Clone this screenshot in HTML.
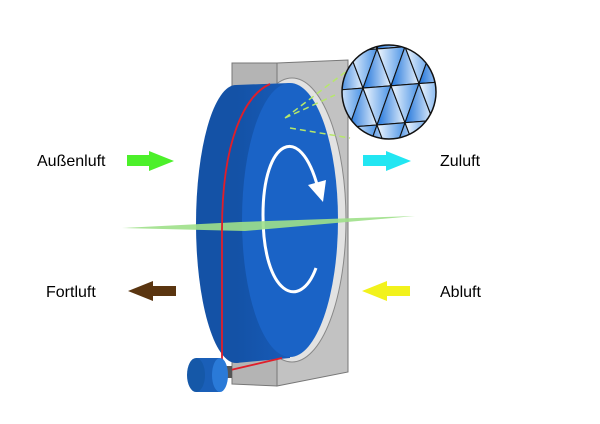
<!DOCTYPE html>
<html><head><meta charset="utf-8"><style>
html,body{margin:0;padding:0;background:#fff;}
svg{display:block}
text{font-family:"Liberation Sans",sans-serif;font-size:16px;fill:#000}
</style></head><body>
<svg id="s" width="600" height="424" viewBox="0 0 600 424" xmlns="http://www.w3.org/2000/svg">
<defs>
<linearGradient id="tri" x1="0" y1="0" x2="1" y2="0">
<stop offset="0" stop-color="#1f74db"/><stop offset="1" stop-color="#e8f2fc"/>
</linearGradient>
<linearGradient id="tri2" x1="1" y1="0" x2="0" y2="0">
<stop offset="0" stop-color="#4a93e6"/><stop offset="1" stop-color="#f2f8fe"/>
</linearGradient>
<linearGradient id="side" x1="0" y1="0" x2="1" y2="0">
<stop offset="0" stop-color="#1452a6"/><stop offset="1" stop-color="#175bb8"/>
</linearGradient>
<clipPath id="mag"><circle cx="389" cy="92" r="47"/></clipPath>
</defs>
<polygon points="232,63 277,63 277,386 232,384" fill="#b4b4b4" stroke="#777" stroke-width="1"/>
<polygon points="277,63 348,60 348,372 277,386" fill="#c2c2c2" stroke="#777" stroke-width="1"/>
<ellipse cx="292" cy="220" rx="54" ry="142" fill="#e2e2e2" stroke="#888"/>
<ellipse cx="236" cy="224" rx="40" ry="139" fill="#1452a6"/>
<path d="M236,85 L290,83 L290,358 L236,363 Z" fill="url(#side)"/>
<ellipse cx="290" cy="220" rx="48" ry="137" fill="#1a63c6"/>
<path d="M316,268 C300,312 263,295 263,215 C263,140 300,120 318,188" fill="none" stroke="#fff" stroke-width="3"/>
<polygon points="308,185 326,180 323,202" fill="#fff"/>
<polygon points="122,228 240,222 415,216 245,231" fill="#9ee08a" opacity="0.9"/>
<path d="M285,118 L348,70 M290,128 L350,138 M285,118 L335,95" stroke="#b6e86a" stroke-width="1.5" stroke-dasharray="6,4" fill="none"/>
<path d="M270,84 C245,95 222,140 222,230 L222,372 L282,358" fill="none" stroke="#e01e2a" stroke-width="1.8"/>
<rect x="220" y="366" width="12" height="12" fill="#555"/>
<rect x="196" y="358" width="24" height="34" fill="#1a5fb8"/>
<ellipse cx="196" cy="375" rx="9" ry="17" fill="#1558a8"/>
<ellipse cx="220" cy="375" rx="8" ry="17" fill="#2a7ad8"/>
<circle cx="389" cy="92" r="47" fill="#f0f6fd"/>
<g id="mg" clip-path="url(#mag)" stroke="#111" stroke-width="1.1"></g>
<circle cx="389" cy="92" r="47" fill="none" stroke="#111" stroke-width="1.5"/>
<polygon points="127,155 149,155 149,151 174,161 149,171 149,166 127,166" fill="#4cf02a"/>
<polygon points="363,155 386,155 386,151 411,161 386,171 386,166 363,166" fill="#22e6f2"/>
<polygon points="176,286 153,286 153,281 128,291 153,301 153,296 176,296" fill="#5a3510"/>
<polygon points="410,286 387,286 387,281 362,291 387,301 387,296 410,296" fill="#f2f21c"/>
<text x="37" y="166">Außenluft</text>
<text x="440" y="166">Zuluft</text>
<text x="46" y="297">Fortluft</text>
<text x="440" y="297">Abluft</text>
</svg>
<script>
var g=document.getElementById('mg'),ns='http://www.w3.org/2000/svg',h='';
var W=28,H=38;
for(var k=-1;k<4;k++){var y0=48+H*(k)-0; var off=(k%2?W/2:0);
 for(var i=-2;i<6;i++){var x0=335+W*i+off;
  var t=-0.08; // tilt
  function Y(x,y){return (y+(x-389)*t).toFixed(1);}
  var a=[x0+W/2,y0],b=[x0,y0+H],c=[x0+W,y0+H];
  h+='<polygon fill="url(#tri)" points="'+a[0]+','+Y(a[0],a[1])+' '+b[0]+','+Y(b[0],b[1])+' '+c[0]+','+Y(c[0],c[1])+'"/>';
  var d=[x0+W/2,y0],e=[x0+W*1.5,y0],f=[x0+W,y0+H];
  h+='<polygon fill="url(#tri2)" points="'+d[0]+','+Y(d[0],d[1])+' '+e[0]+','+Y(e[0],e[1])+' '+f[0]+','+Y(f[0],f[1])+'"/>';
 }}
g.innerHTML=h;
</script>
</body></html>
